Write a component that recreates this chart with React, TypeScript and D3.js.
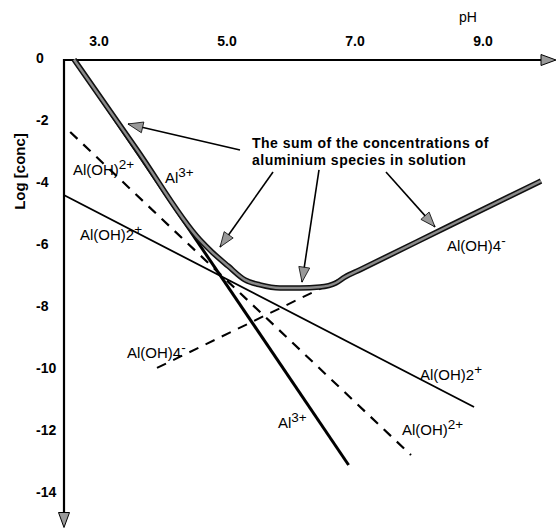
import React from "react";
import * as d3 from "d3";

// ---- data (pH, log[conc]) ----
const al3: [number, number][] = [[2.61, 0], [6.9, -13.08]];
const alOH2plus2: [number, number][] = [[2.55, -2.34], [7.875, -12.76]]; // Al(OH)2+ (dashed)
const alOH2plus: [number, number][] = [[2.45, -4.37], [8.86, -11.21]]; // Al(OH)2 + (thin)
const alOH4: [number, number][] = [[3.906, -9.95], [6.75, -7.1]]; // dashed
const sumCurve: [number, number][] = [
  [2.61, 0], [3.6, -2.93], [4.578, -5.82], [4.766, -6.21], [5.016, -6.66], [5.281, -7.11],
  [5.516, -7.27], [5.828, -7.37], [6.14, -7.37], [6.45, -7.34], [6.7, -7.21],
  [6.84, -7.02], [7.08, -6.78], [8.5, -5.34], [9.906, -3.92],
];
const xTicks = [3, 5, 7, 9];
const xTickLabels = ["3.0", "5.0", "7.0", "9.0"];
const yTicks = [0, -2, -4, -6, -8, -10, -12, -14];

// annotation arrows: [fromPH, fromLog, toPH, toLog]
const arrows: [number, number, number, number][] = [
  [5.203, -2.92, 3.453, -2.08],
  [5.719, -3.63, 4.891, -6.05],
  [6.4375, -3.56, 6.172, -7.18],
  [7.484, -3.63, 8.25, -5.4],
];
const noteLines = ["The sum of the concentrations of", "aluminium species in solution"];
const notePos: [number, number] = [5.39, -2.85];

// species labels
const labels: { ph: number; lg: number; main: string; sup: string }[] = [
  { ph: 2.594, lg: -3.73, main: "Al(OH)", sup: "2+" },
  { ph: 4.031, lg: -3.98, main: "Al", sup: "3+" },
  { ph: 2.703, lg: -5.82, main: "Al(OH)2", sup: "+" },
  { ph: 3.4375, lg: -9.63, main: "Al(OH)4", sup: "-" },
  { ph: 8.4375, lg: -6.18, main: "Al(OH)4", sup: "-" },
  { ph: 8.016, lg: -10.34, main: "Al(OH)2", sup: "+" },
  { ph: 7.734, lg: -12.11, main: "Al(OH)", sup: "2+" },
  { ph: 5.797, lg: -11.89, main: "Al", sup: "3+" },
];

const W = 556;
const H = 529;
const FONT = "'Liberation Sans', Arial, Helvetica, sans-serif";

export default function App() {
  const x = d3.scaleLinear().domain([3, 9]).range([99, 483]);
  const y = d3.scaleLinear().domain([0, -14]).range([59.5, 493.5]);
  const line = d3
    .line<[number, number]>()
    .x((d) => x(d[0]))
    .y((d) => y(d[1]));
  const curve = d3
    .line<[number, number]>()
    .x((d) => x(d[0]))
    .y((d) => y(d[1]))
    .curve(d3.curveMonotoneX);

  const axX0 = 64;
  const axY0 = 60;

  const arrowHead = (x1: number, y1: number, x2: number, y2: number) => {
    const ang = Math.atan2(y2 - y1, x2 - x1);
    const L = 15;
    const w = 5.5;
    const bx = x2 - L * Math.cos(ang);
    const by = y2 - L * Math.sin(ang);
    const px = -Math.sin(ang) * w;
    const py = Math.cos(ang) * w;
    return `M${x2},${y2}L${bx + px},${by + py}L${bx - px},${by - py}Z`;
  };

  return (
    <svg
      width={W}
      height={H}
      style={{ position: "absolute", left: 0, top: 0, background: "#fff" }}
      fontFamily={FONT}
    >
      <rect width={W} height={H} fill="#fff" />
      {/* axes */}
      <line x1={axX0} y1={axY0} x2={545} y2={axY0} stroke="#000" strokeWidth={2.2} />
      <path d={arrowHead(axX0, axY0, 556, axY0)} fill="#999" stroke="#000" strokeWidth={1} />
      <line x1={axX0} y1={axY0 - 1} x2={axX0} y2={514} stroke="#000" strokeWidth={2.2} />
      <path d={arrowHead(axX0, axY0, axX0, 527.5)} fill="#999" stroke="#000" strokeWidth={1} />

      {/* tick labels */}
      {xTicks.map((t, i) => (
        <text key={"xt" + i} x={x(t)} y={46} textAnchor="middle" fontSize={14} fontWeight="bold">
          {xTickLabels[i]}
        </text>
      ))}
      {yTicks.map((t) => (
        <text key={"yt" + t} x={36} y={y(t) + 3} textAnchor="start" fontSize={14} fontWeight="bold">
          {String(t)}
        </text>
      ))}
      <text x={468} y={22} textAnchor="middle" fontSize={14}>
        pH
      </text>
      <text
        transform={`translate(25,${171.5}) rotate(-90)`}
        textAnchor="middle"
        fontSize={15}
        fontWeight="bold"
      >
        Log [conc]
      </text>

      {/* species lines */}
      <path d={line(alOH2plus) || ""} fill="none" stroke="#000" strokeWidth={1.8} />
      <path d={line(alOH2plus2) || ""} fill="none" stroke="#000" strokeWidth={2.2} strokeDasharray="10,8" />
      <path d={line(alOH4) || ""} fill="none" stroke="#000" strokeWidth={2} strokeDasharray="10,8" />
      <path d={line(al3) || ""} fill="none" stroke="#000" strokeWidth={3} />

      {/* sum curve */}
      <path d={curve(sumCurve) || ""} fill="none" stroke="#111" strokeWidth={5.5} strokeLinejoin="round" />
      <path d={curve(sumCurve) || ""} fill="none" stroke="#8a8a8a" strokeWidth={2.4} strokeLinejoin="round" />

      {/* annotation */}
      {noteLines.map((t, i) => (
        <text
          key={"n" + i}
          x={x(notePos[0])}
          y={y(notePos[1]) + i * 17}
          fontSize={14}
          fontWeight="bold"
          letterSpacing={0.5}
        >
          {t}
        </text>
      ))}
      {arrows.map((a, i) => {
        const x1 = x(a[0]);
        const y1 = y(a[1]);
        const x2 = x(a[2]);
        const y2 = y(a[3]);
        return (
          <g key={"a" + i}>
            <line x1={x1} y1={y1} x2={x2} y2={y2} stroke="#000" strokeWidth={1.6} />
            <path d={arrowHead(x1, y1, x2, y2)} fill="#999" stroke="#000" strokeWidth={0.8} />
          </g>
        );
      })}

      {/* species labels */}
      {labels.map((l, i) => (
        <text key={"l" + i} x={x(l.ph)} y={y(l.lg)} fontSize={15}>
          {l.main}
          <tspan fontSize={13.5} dy={-6}>
            {l.sup}
          </tspan>
        </text>
      ))}
    </svg>
  );
}
